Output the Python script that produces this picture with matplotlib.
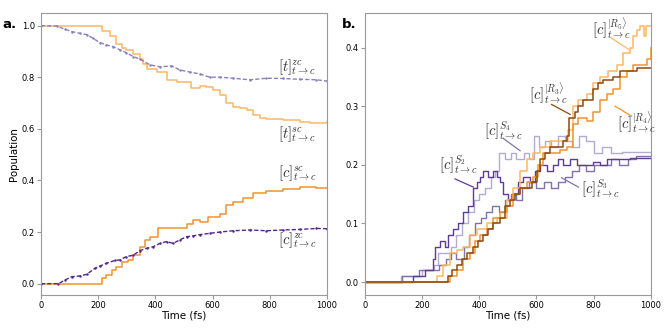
import matplotlib
matplotlib.use("Agg")
import matplotlib.pyplot as plt

plt.rcParams['mathtext.fontset'] = 'cm'
plt.rcParams['font.family'] = ['DejaVu Sans']

# ---------------- Panel a data ----------------
t_zc_time = [0, 55, 84, 107, 136, 160, 183, 206, 229, 253, 276, 299, 322, 346, 381, 416, 456, 486,
             520, 555, 590, 625, 672, 730, 788, 846, 905, 963, 1000]
t_zc_vals = [1.0, 0.998, 0.986, 0.977, 0.970, 0.965, 0.950, 0.934, 0.925, 0.918, 0.906, 0.895, 0.880,
             0.870, 0.848, 0.840, 0.844, 0.828, 0.820, 0.813, 0.800, 0.800, 0.796, 0.790, 0.796, 0.795,
             0.792, 0.790, 0.785]

c_zc_time = [0, 61, 84, 107, 136, 160, 189, 206, 229, 259, 276, 299, 322, 346, 369, 392, 416, 439,
             462, 486, 509, 532, 555, 590, 625, 672, 730, 788, 846, 905, 963, 1000]
c_zc_vals = [0.0, 0.0, 0.014, 0.027, 0.030, 0.036, 0.060, 0.068, 0.079, 0.090, 0.092, 0.105, 0.110,
             0.128, 0.137, 0.143, 0.156, 0.163, 0.156, 0.170, 0.182, 0.185, 0.190, 0.195, 0.200, 0.205,
             0.208, 0.205, 0.208, 0.210, 0.214, 0.213]

t_sc_time = [0, 215, 241, 264, 282, 299, 322, 346, 357, 369, 404, 439, 474, 509, 526, 555, 578, 602,
             625, 648, 672, 695, 719, 742, 765, 788, 846, 905, 940, 1000]
t_sc_vals = [1.0, 0.98, 0.96, 0.93, 0.915, 0.905, 0.89, 0.87, 0.85, 0.83, 0.82, 0.79, 0.78, 0.78,
             0.76, 0.765, 0.762, 0.75, 0.73, 0.70, 0.686, 0.68, 0.673, 0.654, 0.64, 0.637, 0.634,
             0.628, 0.624, 0.628]

c_sc_time = [0, 215, 229, 247, 264, 282, 305, 322, 346, 363, 381, 410, 439, 450, 509, 532, 555, 585,
             625, 648, 672, 707, 742, 788, 846, 905, 963, 1000]
c_sc_vals = [0.0, 0.02, 0.034, 0.053, 0.066, 0.085, 0.092, 0.11, 0.143, 0.17, 0.18, 0.215, 0.215,
             0.217, 0.23, 0.247, 0.238, 0.26, 0.27, 0.305, 0.318, 0.33, 0.353, 0.36, 0.366, 0.376,
             0.372, 0.372]

# ---------------- Panel b data ----------------
s2_time = [0, 169, 210, 239, 245, 263, 280, 292, 309, 327, 344, 362, 379, 391, 403, 414, 432, 449,
           461, 473, 484, 502, 519, 537, 554, 578, 595, 613, 636, 659, 677, 694, 718, 741, 764, 799,
           823, 846, 881, 928, 1000]
s2_vals = [0.0, 0.01, 0.02, 0.04, 0.06, 0.07, 0.06, 0.08, 0.09, 0.10, 0.12, 0.13, 0.16, 0.17, 0.18,
           0.19, 0.18, 0.19, 0.18, 0.17, 0.15, 0.14, 0.15, 0.17, 0.18, 0.17, 0.19, 0.20, 0.19, 0.20,
           0.21, 0.20, 0.21, 0.20, 0.20, 0.205, 0.20, 0.21, 0.21, 0.212, 0.212]

s3_time = [0, 130, 150, 190, 240, 260, 285, 300, 320, 345, 365, 385, 405, 425, 445, 470, 490, 510,
           530, 550, 575, 600, 625, 650, 675, 700, 725, 750, 775, 800, 830, 860, 890, 920, 950, 1000]
s3_vals = [0.0, 0.01, 0.01, 0.02, 0.02, 0.03, 0.04, 0.05, 0.04, 0.06, 0.08, 0.10, 0.11, 0.12, 0.13,
           0.12, 0.14, 0.15, 0.14, 0.16, 0.17, 0.16, 0.17, 0.16, 0.17, 0.18, 0.19, 0.20, 0.19, 0.20,
           0.20, 0.21, 0.20, 0.21, 0.215, 0.215]

s4_time = [0, 125, 150, 200, 240, 255, 280, 300, 320, 340, 360, 380, 400, 420, 440, 455, 470, 490,
           510, 530, 555, 575, 590, 610, 630, 650, 675, 700, 725, 750, 775, 800, 830, 860, 900, 1000]
s4_vals = [0.0, 0.01, 0.01, 0.02, 0.03, 0.05, 0.05, 0.06, 0.08, 0.10, 0.12, 0.14, 0.15, 0.16, 0.18,
           0.19, 0.22, 0.21, 0.22, 0.21, 0.22, 0.21, 0.25, 0.23, 0.24, 0.23, 0.25, 0.24, 0.23, 0.25,
           0.24, 0.22, 0.23, 0.22, 0.222, 0.222]

r3_time = [0, 285, 292, 303, 321, 338, 356, 379, 397, 414, 432, 449, 473, 490, 507, 525, 543, 566,
           584, 601, 613, 630, 648, 671, 694, 706, 715, 723, 735, 747, 764, 782, 799, 817, 834, 869,
           893, 928, 951, 1000]
r3_vals = [0.0, 0.0, 0.01, 0.02, 0.03, 0.04, 0.05, 0.06, 0.07, 0.08, 0.09, 0.10, 0.11, 0.13, 0.14,
           0.15, 0.16, 0.16, 0.17, 0.19, 0.21, 0.22, 0.23, 0.23, 0.24, 0.25, 0.28, 0.28, 0.29, 0.30,
           0.31, 0.31, 0.33, 0.34, 0.345, 0.35, 0.36, 0.36, 0.365, 0.365]

r4_time = [0, 290, 297, 321, 344, 367, 385, 403, 426, 449, 473, 496, 519, 543, 566, 589, 607, 624,
           648, 683, 706, 729, 747, 776, 799, 823, 846, 869, 893, 916, 939, 963, 986, 1000]
r4_vals = [0.0, 0.0, 0.01, 0.02, 0.04, 0.05, 0.07, 0.08, 0.09, 0.11, 0.12, 0.13, 0.15, 0.16, 0.17,
           0.18, 0.20, 0.22, 0.22, 0.225, 0.23, 0.27, 0.28, 0.275, 0.29, 0.31, 0.32, 0.33, 0.35, 0.36,
           0.37, 0.37, 0.38, 0.40]

r5_time = [0, 251, 274, 297, 321, 344, 367, 391, 426, 461, 496, 519, 543, 566, 589, 613, 648, 683,
           712, 729, 747, 776, 799, 823, 852, 881, 904, 928, 939, 951, 963, 975, 985, 1000]
r5_vals = [0.0, 0.01, 0.03, 0.05, 0.055, 0.06, 0.08, 0.09, 0.10, 0.11, 0.14, 0.16, 0.19, 0.21, 0.22,
           0.23, 0.24, 0.24, 0.26, 0.30, 0.31, 0.32, 0.34, 0.35, 0.36, 0.37, 0.39, 0.40, 0.42, 0.43,
           0.437, 0.42, 0.437, 0.437]

# label texts and positions (data coords)
a_labels = [r'$[t]^{zc}_{t\to c}$', r'$[t]^{sc}_{t\to c}$', r'$[c]^{sc}_{t\to c}$', r'$[c]^{zc}_{t\to c}$']
a_label_x = [829, 829, 829, 829]
a_label_y = [0.84, 0.58, 0.43, 0.17]

b_labels = [r'$[c]^{|R_5\rangle}_{t\to c}$', r'$[c]^{|R_3\rangle}_{t\to c}$', r'$[c]^{|R_4\rangle}_{t\to c}$',
            r'$[c]^{S_4}_{t\to c}$', r'$[c]^{S_2}_{t\to c}$', r'$[c]^{S_3}_{t\to c}$']
b_label_x = [793, 574, 881, 417, 259, 755]
b_label_y = [0.432, 0.322, 0.272, 0.258, 0.200, 0.160]
b_ptr_x = [(863, 922), (653, 718), (875, 933), (484, 543), (315, 379), (688, 747)]
b_ptr_y = [(0.416, 0.397), (0.303, 0.286), (0.300, 0.283), (0.245, 0.224), (0.176, 0.162), (0.178, 0.162)]

# colours (PuOr-like)
C_TZC = '#8a7fbf'
C_CZC = '#542788'
C_TSC = '#fdb863'
C_CSC = '#f1922e'
C_S2 = '#5e3c99'
C_S3 = '#8073ac'
C_S4 = '#b2abd2'
C_R3 = '#8c4a10'
C_R4 = '#f1922e'
C_R5 = '#fdb863'
b_ptr_colors = [C_R5, C_R3, C_R4, C_S3, C_S2, C_S3]

GREY = '#999999'

fig = plt.figure(figsize=(6.64, 3.32), dpi=100)
axa = fig.add_axes([0.0617, 0.1114, 0.4308, 0.8496])
axb = fig.add_axes([0.5497, 0.1114, 0.4303, 0.8496])

for ax in (axa, axb):
    for s in ax.spines.values():
        s.set_color(GREY)
        s.set_linewidth(0.8)
    ax.tick_params(axis='both', colors=GREY, labelcolor='black', labelsize=6.0, length=3, width=0.8, pad=1.5)
    ax.set_xlim(0, 1000)
    ax.set_xticks([0, 200, 400, 600, 800, 1000])
    ax.set_xlabel('Time (fs)', fontsize=7.4, labelpad=0)

# Panel a
axa.plot(t_sc_time, t_sc_vals, color=C_TSC, lw=1.1, drawstyle='steps-post')
axa.plot(c_sc_time, c_sc_vals, color=C_CSC, lw=1.1, drawstyle='steps-post')
axa.plot(t_zc_time, t_zc_vals, color=C_TZC, lw=1.0, ls=(0, (3, 1.5)), marker='.', ms=1.5)
axa.plot(c_zc_time, c_zc_vals, color=C_CZC, lw=1.0, ls=(0, (3, 1.5)), marker='.', ms=1.5)
axa.set_ylim(-0.044, 1.049)
axa.set_yticks([0.0, 0.2, 0.4, 0.6, 0.8, 1.0])
axa.set_ylabel('Population', fontsize=7.4, labelpad=2)

lab_fs = 10.5
for txt, x, y in zip(a_labels, a_label_x, a_label_y):
    axa.text(x, y, txt, fontsize=lab_fs, va='center', ha='left', color='#333333')

# Panel b
axb.plot(s4_time, s4_vals, color=C_S4, lw=1.0, drawstyle='steps-post')
axb.plot(s3_time, s3_vals, color=C_S3, lw=1.0, drawstyle='steps-post')
axb.plot(s2_time, s2_vals, color=C_S2, lw=1.0, drawstyle='steps-post')
axb.plot(r5_time, r5_vals, color=C_R5, lw=1.1, drawstyle='steps-post')
axb.plot(r4_time, r4_vals, color=C_R4, lw=1.1, drawstyle='steps-post')
axb.plot(r3_time, r3_vals, color=C_R3, lw=1.1, drawstyle='steps-post')
axb.set_ylim(-0.022, 0.459)
axb.set_yticks([0.0, 0.1, 0.2, 0.3, 0.4])

for txt, x, y, px, py, col in zip(b_labels, b_label_x, b_label_y, b_ptr_x, b_ptr_y, b_ptr_colors):
    axb.text(x, y, txt, fontsize=lab_fs, va='center', ha='left', color='#333333')
    axb.plot(px, py, color=col, lw=0.9)

fig.text(0.003, 0.925, 'a.', fontsize=9.5, fontweight='bold', ha='left', va='center')
fig.text(0.515, 0.925, 'b.', fontsize=9.5, fontweight='bold', ha='left', va='center')

fig.savefig('out.png', dpi=100)
